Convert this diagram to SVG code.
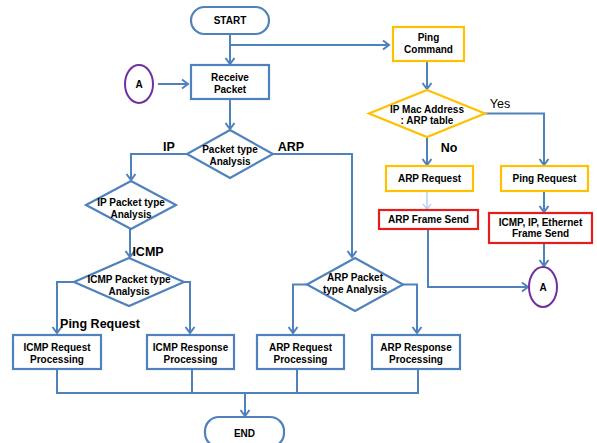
<svg xmlns="http://www.w3.org/2000/svg" width="597" height="443" viewBox="0 0 597 443">
<defs>
<marker id="arr" markerUnits="userSpaceOnUse" markerWidth="14" markerHeight="14" viewBox="-8 -7 10 14" refX="0" refY="0" orient="auto">
<path d="M-6,-4.5 L0,0 L-6,4.5" fill="none" stroke="#4F81BD" stroke-width="2"/>
</marker>
<marker id="arrl" markerUnits="userSpaceOnUse" markerWidth="14" markerHeight="14" viewBox="-8 -7 10 14" refX="0" refY="0" orient="auto">
<path d="M-5,-4 L0,0 L-5,4" fill="none" stroke="#A9C4E4" stroke-width="1.2"/>
</marker>
</defs>
<style>
.b{fill:#fff;stroke:#4F81BD;stroke-width:2.2}
.y{fill:#fff;stroke:#FFC000;stroke-width:2.2}
.r{fill:#fff;stroke:#E41E1E;stroke-width:2.2}
.p{fill:#fff;stroke:#7030A0;stroke-width:2}
.c{fill:none;stroke:#4F81BD;stroke-width:2}
text{font-family:"Liberation Sans",Arial,sans-serif;font-weight:bold;font-size:10px;fill:#000;text-anchor:middle}
.l{font-size:12.5px}
</style>
<rect width="597" height="443" fill="#fff"/>
<g id="connectors">
<path class="c" d="M230,34 V64" marker-end="url(#arr)"/>
<path class="c" d="M230,45 H389" marker-end="url(#arr)"/>
<path class="c" d="M158,84 H188" marker-end="url(#arr)"/>
<path class="c" d="M230,99 V129" marker-end="url(#arr)"/>
<path class="c" d="M187,154 H131 V180" marker-end="url(#arr)"/>
<path class="c" d="M273,154 H352 V257" marker-end="url(#arr)"/>
<path class="c" d="M130,229 V257" marker-end="url(#arr)"/>
<path class="c" d="M74,282 H57 V333" marker-end="url(#arr)"/>
<path class="c" d="M184,282 H190 V333" marker-end="url(#arr)"/>
<path class="c" d="M307,284.5 H293 V333" marker-end="url(#arr)"/>
<path class="c" d="M403,284.5 H417 V333" marker-end="url(#arr)"/>
<path class="c" d="M57,369 V393 H418 V369 M192,369 V393 M297,369 V393"/>
<path class="c" d="M245,393 V416" marker-end="url(#arr)"/>
<path class="c" d="M427,61 V89" marker-end="url(#arr)"/>
<path class="c" d="M485,113.5 H544 V165" marker-end="url(#arr)"/>
<path class="c" d="M427,137 V165" marker-end="url(#arr)"/>
<path d="M427,191 V209" fill="none" stroke="#A9C4E4" stroke-width="1.2" marker-end="url(#arrl)"/>
<path class="c" d="M544,191 V212" marker-end="url(#arr)"/>
<path class="c" d="M544,243 V266" marker-end="url(#arr)"/>
<path class="c" d="M428,229 V287 H528" marker-end="url(#arr)"/>
<text class="l" x="169" y="151">IP</text>
<text class="l" x="291" y="151">ARP</text>
<text class="l" x="148" y="256">ICMP</text>
<text class="l" x="100" y="328">Ping Request</text>
<text class="l" x="500" y="108" style="font-weight:normal">Yes</text>
<text class="l" x="449" y="152">No</text>
</g>
<g id="start"><rect class="b" x="191" y="7" width="78" height="27" rx="13.5"/><text x="230" y="24">START</text></g>
<g id="receive"><rect class="b" x="191" y="65" width="78" height="34"/><text x="230" y="81">Receive</text><text x="230" y="93">Packet</text></g>
<g id="a-left"><ellipse class="p" cx="139" cy="84" rx="14" ry="19"/><text x="139" y="88">A</text></g>
<g id="pta"><polygon class="b" points="230,130 273,154 230,178 187,154"/><text x="230" y="153">Packet type</text><text x="230" y="165">Analysis</text></g>
<g id="ipta"><polygon class="b" points="131,181 176,205 131,229 86,205"/><text x="131" y="206">IP Packet type</text><text x="131" y="218">Analysis</text></g>
<g id="icmpta"><polygon class="b" points="129,258 184,282 129,306 74,282"/><text x="129" y="283">ICMP Packet type</text><text x="129" y="295">Analysis</text></g>
<g id="icmpreq"><rect class="b" x="13" y="335" width="88" height="34"/><text x="57" y="351">ICMP Request</text><text x="57" y="363">Processing</text></g>
<g id="icmpresp"><rect class="b" x="147" y="335" width="87" height="34"/><text x="190.5" y="351">ICMP Response</text><text x="190.5" y="363">Processing</text></g>
<g id="arpta"><polygon class="b" points="355,258 403,284.5 355,311 307,284.5"/><text x="355" y="281">ARP Packet</text><text x="355" y="293">type Analysis</text></g>
<g id="arpreqp"><rect class="b" x="257" y="335" width="87" height="34"/><text x="300.5" y="351">ARP Request</text><text x="300.5" y="363">Processing</text></g>
<g id="arprespp"><rect class="b" x="372" y="335" width="88" height="34"/><text x="416" y="351">ARP Response</text><text x="416" y="363">Processing</text></g>
<g id="end"><rect class="b" x="205" y="417" width="79" height="30" rx="14"/><text x="244.5" y="437">END</text></g>
<g id="ping"><rect class="y" x="393" y="27" width="71" height="34"/><text x="428.5" y="41">Ping</text><text x="428.5" y="53">Command</text></g>
<g id="ipmac"><polygon class="y" points="427,90 485,113.5 427,137 369,113.5"/><text x="427" y="113">IP Mac Address</text><text x="427" y="124">: ARP table</text></g>
<g id="arpreq"><rect class="y" x="386" y="166" width="87" height="25"/><text x="429.5" y="182">ARP Request</text></g>
<g id="pingreq"><rect class="y" x="501" y="166" width="87" height="25"/><text x="544.5" y="182">Ping Request</text></g>
<g id="arpframe"><rect class="r" x="379" y="210" width="99" height="19"/><text x="428.5" y="223">ARP Frame Send</text></g>
<g id="icmpframe"><rect class="r" x="489" y="213" width="103" height="30"/><text x="540.5" y="226">ICMP, IP, Ethernet</text><text x="540.5" y="237">Frame Send</text></g>
<g id="a-right"><ellipse class="p" cx="543" cy="287" rx="14" ry="20"/><text x="543" y="291">A</text></g>
</svg>
